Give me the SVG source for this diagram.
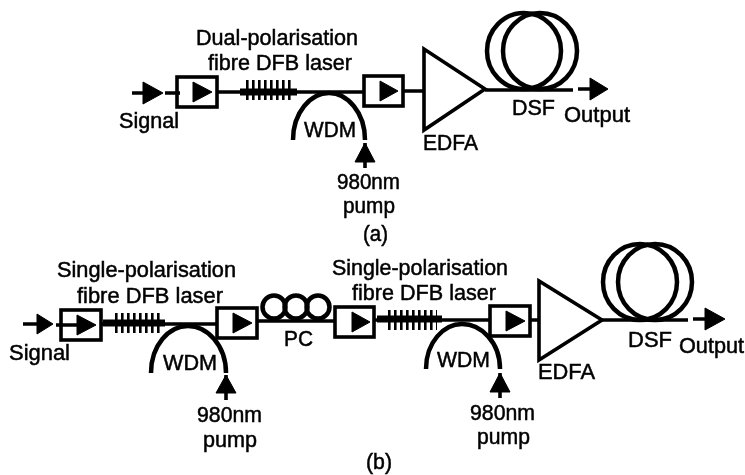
<svg xmlns="http://www.w3.org/2000/svg" width="745" height="475" viewBox="0 0 745 475">
<style>
text{font-family:"Liberation Sans",Arial,sans-serif;font-size:22px;fill:#000;stroke:#000;stroke-width:.5}
.l{fill:none;stroke:#000;stroke-width:3.6}
.box{fill:none;stroke:#000;stroke-width:3.6}
.arc{fill:none;stroke:#000;stroke-width:4.5}
.coil{fill:none;stroke:#000;stroke-width:4.5}
.h{fill:#000;stroke:#000;stroke-width:1;stroke-linejoin:round}
.core{fill:none;stroke:#000;stroke-width:7}
.teeth{fill:none;stroke:#000;stroke-width:20;stroke-dasharray:2.6 3.4}
</style>
<defs><filter id="soft" x="-2%" y="-2%" width="104%" height="104%"><feGaussianBlur stdDeviation="0.45"/></filter></defs>
<rect width="745" height="475" fill="#fff"/>
<g filter="url(#soft)">
<g id="connectors">
<path class="l" d="M132 93H146M165 93H180M217 92H364M403 91H424M485 90H573M578 89H592"/>
<path class="h" d="M143 82L163 93L143 104Z"/>
<path class="l" d="M365 143V168"/><path class="h" d="M355 162L365 143L375 162Z"/>
<path class="h" d="M590 78L608 89L590 100Z"/>
<path class="l" d="M23 324H40M56 325H80M101 324H217M257 321H335M374 320H490M530 320H539M602 320H688M693 319H708"/>
<path class="h" d="M37 314L53 324L37 334Z"/>
<path class="l" d="M226 375V400"/><path class="h" d="M216 393L226 375L236 393Z"/>
<path class="l" d="M500 373V398"/><path class="h" d="M490 392L500 373L510 392Z"/>
<path class="h" d="M705 308L725 319L705 330Z"/>
</g>
<g id="isolator-a1"><rect class="box" x="177" y="77" width="40" height="30"/><path class="h" d="M193 82L212 92L193 102Z"/></g>
<g id="grating-a"><path class="core" d="M240 92H297"/><path class="teeth" d="M246 90H294"/></g>
<g id="isolator-a2"><rect class="box" x="364" y="76" width="39" height="30"/><path class="h" d="M380 81L398 91L380 101Z"/></g>
<g id="wdm-a"><path class="arc" d="M293 140C293 112 311 93 329 93C347 93 365 112 365 140"/><text x="304" y="137" textLength="52" lengthAdjust="spacingAndGlyphs">WDM</text></g>
<g id="edfa-a"><path class="box" d="M424 49V130L485 89Z"/><text x="423" y="150" textLength="55" lengthAdjust="spacingAndGlyphs">EDFA</text></g>
<g id="dsf-a"><ellipse class="coil" cx="524" cy="51" rx="37" ry="38"/><ellipse class="coil" cx="540" cy="51" rx="37" ry="38"/><text x="512" y="115" textLength="43" lengthAdjust="spacingAndGlyphs">DSF</text></g>
<g id="labels-a">
<text x="196" y="45" textLength="162" lengthAdjust="spacingAndGlyphs">Dual-polarisation</text>
<text x="208" y="70" textLength="144" lengthAdjust="spacingAndGlyphs">fibre DFB laser</text>
<text x="119" y="128" textLength="60" lengthAdjust="spacingAndGlyphs">Signal</text>
<text x="337" y="189" textLength="63" lengthAdjust="spacingAndGlyphs">980nm</text>
<text x="343" y="213" textLength="52" lengthAdjust="spacingAndGlyphs">pump</text>
<text x="564" y="122" textLength="66" lengthAdjust="spacingAndGlyphs">Output</text>
<text x="363" y="241" textLength="25" lengthAdjust="spacingAndGlyphs">(a)</text>
</g>
<g id="isolator-b1"><rect class="box" x="61" y="310" width="40" height="30"/><path class="h" d="M77 315L96 325L77 335Z"/></g>
<g id="grating-b1"><path class="core" d="M103 323H165"/><path class="teeth" d="M115 323H161"/></g>
<g id="isolator-b2"><rect class="box" x="217" y="308" width="40" height="30"/><path class="h" d="M233 313L252 323L233 333Z"/></g>
<g id="wdm-b1"><path class="arc" d="M151 373C151 345 169 326 188 326C207 326 226 345 226 373"/><text x="163" y="370" textLength="54" lengthAdjust="spacingAndGlyphs">WDM</text></g>
<g id="pc"><circle class="coil" cx="274" cy="307" r="11.5"/><circle class="coil" cx="296" cy="307" r="11.5"/><circle class="coil" cx="318" cy="307" r="11.5"/><text x="284" y="346" textLength="29" lengthAdjust="spacingAndGlyphs">PC</text></g>
<g id="isolator-b3"><rect class="box" x="335" y="307" width="39" height="30"/><path class="h" d="M352 312L370 322L352 332Z"/></g>
<g id="grating-b2"><path class="core" d="M377 319H442"/><path class="teeth" d="M388 320H437"/></g>
<g id="isolator-b4"><rect class="box" x="490" y="306" width="40" height="30"/><path class="h" d="M506 311L525 321L506 331Z"/></g>
<g id="wdm-b2"><path class="arc" d="M426 369C426 342 444 324 462 324C481 324 500 342 500 369"/><text x="437" y="367" textLength="53" lengthAdjust="spacingAndGlyphs">WDM</text></g>
<g id="edfa-b"><path class="box" d="M539 281V360L602 320Z"/><text x="538" y="379" textLength="57" lengthAdjust="spacingAndGlyphs">EDFA</text></g>
<g id="dsf-b"><ellipse class="coil" cx="640" cy="282" rx="37" ry="38"/><ellipse class="coil" cx="655" cy="282" rx="37" ry="38"/><text x="628" y="347" textLength="44" lengthAdjust="spacingAndGlyphs">DSF</text></g>
<g id="labels-b">
<text x="57" y="277" textLength="179" lengthAdjust="spacingAndGlyphs">Single-polarisation</text>
<text x="77" y="303" textLength="146" lengthAdjust="spacingAndGlyphs">fibre DFB laser</text>
<text x="332" y="275" textLength="176" lengthAdjust="spacingAndGlyphs">Single-polarisation</text>
<text x="352" y="300" textLength="144" lengthAdjust="spacingAndGlyphs">fibre DFB laser</text>
<text x="9" y="360" textLength="61" lengthAdjust="spacingAndGlyphs">Signal</text>
<text x="197" y="422" textLength="65" lengthAdjust="spacingAndGlyphs">980nm</text>
<text x="203" y="447" textLength="54" lengthAdjust="spacingAndGlyphs">pump</text>
<text x="470" y="420" textLength="65" lengthAdjust="spacingAndGlyphs">980nm</text>
<text x="477" y="444" textLength="53" lengthAdjust="spacingAndGlyphs">pump</text>
<text x="679" y="353" textLength="65" lengthAdjust="spacingAndGlyphs">Output</text>
<text x="366" y="469" textLength="26" lengthAdjust="spacingAndGlyphs">(b)</text>
</g>
</g>
</svg>
